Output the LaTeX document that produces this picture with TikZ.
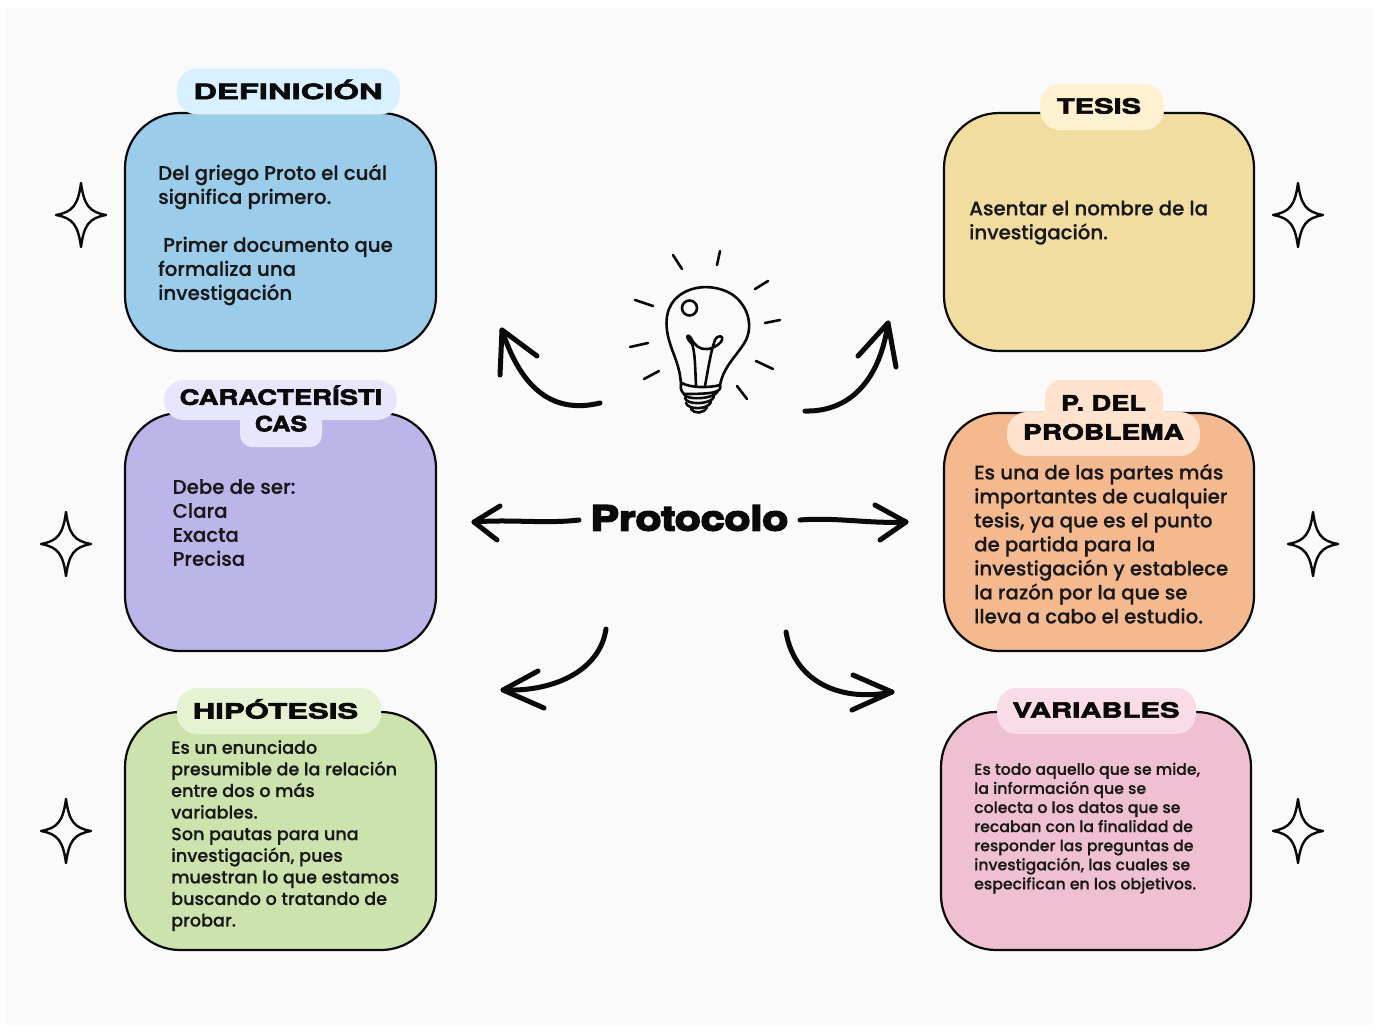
\documentclass[tikz,border=0pt]{standalone}
\usepackage{fontspec}
\setmainfont{Poppins Medium}[FakeBold=0.4]
\newfontfamily\headfont{TeX Gyre Heros}[FakeStretch=1.36,BoldFeatures={FakeBold=3}]
\newfontfamily\titlefont{TeX Gyre Heros}[FakeStretch=1.36,BoldFeatures={FakeBold=6}]
\definecolor{pagebg}{HTML}{FAFAFA}
\definecolor{inkc}{HTML}{0A0A0A}
\definecolor{cblue}{HTML}{9BCDEA}\definecolor{cblueL}{HTML}{D8F0FF}
\definecolor{cyel}{HTML}{F1DD9F}\definecolor{cyelL}{HTML}{FFF1CF}
\definecolor{cpur}{HTML}{BBB5E9}\definecolor{cpurL}{HTML}{E8E6FD}
\definecolor{cora}{HTML}{F4B98E}\definecolor{coraL}{HTML}{FFE3CF}
\definecolor{cgre}{HTML}{CDE3AE}\definecolor{cgreL}{HTML}{E5F3D3}
\definecolor{cpin}{HTML}{EFC0D2}\definecolor{cpinL}{HTML}{F9DCE7}
\newcommand{\hs}[2]{\scalebox{#1}[1]{#2}}
\tikzset{
  card/.style={draw=inkc,line width=2.2pt,rounded corners=55pt,minimum width=#1,minimum height=238pt,inner sep=0pt},
  pill/.style={rounded corners=20pt,inner sep=0pt,text=inkc},
  head/.style={font=\headfont\bfseries\fontsize{21}{27}\selectfont,text=inkc,align=center,inner sep=0pt},
  bodytxt/.style={anchor=north west,align=left,inner sep=0pt,text=black!90,font=\fontsize{19.75}{24}\selectfont},
  bodytxtS/.style={anchor=north west,align=left,inner sep=0pt,text=black!90,font=\fontsize{17.6}{21.6}\selectfont},
  bodytxtT/.style={anchor=north west,align=left,inner sep=0pt,text=black!90,font=\fontsize{15.7}{19.1}\selectfont},
  swoop/.style={draw=inkc,line width=5pt,line cap=round,line join=round},
  lamp/.style={draw=inkc,line width=2.6pt,line cap=round,line join=round},
  spark/.style={draw=inkc,line width=2.4pt,line join=round},
}
\newcommand{\sparkat}[2]{%
  \path[spark,shift={(#1,#2)}] (0,-32) .. controls (3,-10) and (8,-3) .. (25,0) .. controls (8,3) and (3,10) .. (0,32) .. controls (-3,10) and (-8,3) .. (-25,0) .. controls (-8,-3) and (-3,-10) .. (0,-32) -- cycle;}
\begin{document}
\begin{tikzpicture}[x=1pt,y=-1pt]
\useasboundingbox (0,0) rectangle (1375,1028);
\fill[white] (0,0) rectangle (1375,1028);
\fill[pagebg] (5,8) rectangle (1373,1025);
% cards
\node[card=311pt,fill=cblue] (defbox) at (280.5,232) {};
\node[card=310pt,fill=cyel] (tesbox) at (1099,232) {};
\node[card=311pt,fill=cpur] (carbox) at (280.5,532) {};
\node[card=310pt,fill=cora] (probox) at (1099,532) {};
\node[card=311pt,fill=cgre] (hipbox) at (280.5,831) {};
\node[card=310pt,fill=cpin] (varbox) at (1096,831) {};
% title pills
\node[pill,fill=cblueL,minimum width=223pt,minimum height=46pt] (defpill) at (288.5,91.5) {};
\node[head] (deflab) at (288,89.5) {\hs{1.147}{DEFINICIÓN}};
\node[pill,fill=cyelL,minimum width=124pt,minimum height=46pt] (tespill) at (1102,107) {};
\node[head] (teslab) at (1099,106) {\hs{1.02}{TESIS}};
\node[pill,fill=cpurL,minimum width=233pt,minimum height=40pt] (carpillA) at (280.5,400) {};
\node[pill,rounded corners=12pt,fill=cpurL,minimum width=82pt,minimum height=60pt] (carpillB) at (281,417) {};
\node[head] (carlab) at (281,408.5) {\hs{0.963}{CARACTERÍSTI}\\[-0.5pt]\hs{0.88}{CAS}};
\node[pill,rounded corners=16pt,fill=coraL,minimum width=118pt,minimum height=56pt] (propillA) at (1104,408) {};
\node[pill,fill=coraL,minimum width=193pt,minimum height=44pt] (propillB) at (1103.5,434) {};
\node[head] (prolab) at (1103.5,417.5) {\hs{0.95}{P. DEL}\\[2pt]\hs{0.985}{PROBLEMA}};
\node[pill,fill=cgreL,minimum width=204pt,minimum height=46pt] (hippill) at (279,711) {};
\node[head] (hiplab) at (275.5,709) {\hs{1.09}{HIPÓTESIS}};
\node[pill,fill=cpinL,minimum width=199pt,minimum height=46pt] (varpill) at (1096.5,711) {};
\node[head] (varlab) at (1096,710) {\hs{1.025}{VARIABLES}};
% body texts
\node[bodytxt] (deftxt) at (158,164) {Del griego Proto el cuál\\significa primero.\\[24pt]\hspace*{5pt}Primer documento que\\formaliza una\\investigación};
\node[bodytxt] (testxt) at (969,200.5) {Asentar el nombre de la\\investigación.};
\node[bodytxt] (cartxt) at (172.5,479) {Debe de ser:\\Clara\\Exacta\\Precisa};
\node[bodytxt] (protxt) at (974,463.5) {Es una de las partes más\\importantes de cualquier\\tesis, ya que es el punto\\de partida para la\\investigación y establece\\la razón por la que se\\lleva a cabo el estudio.};
\node[bodytxtS] (hiptxt) at (171,740) {Es un enunciado\\presumible de la relación\\entre dos o más\\variables.\\Son pautas para una\\investigación, pues\\muestran lo que estamos\\buscando o tratando de\\probar.};
\node[bodytxtT] (vartxt) at (974,762.5) {Es todo aquello que se mide,\\la información que se\\colecta o los datos que se\\recaban con la finalidad de\\responder las preguntas de\\investigación, las cuales se\\especifican en los objetivos.};
% centre
\node[font=\titlefont\bfseries\fontsize{34}{40}\selectfont,text=inkc,inner sep=0pt] (protocolo) at (689.5,518) {\hs{0.92}{Protocolo}};
% arrows
\coordinate (a1s) at (600,403); \coordinate (a1e) at (502,330);
\coordinate (a2s) at (805,411); \coordinate (a2e) at (888,323);
\coordinate (a3s) at (579,520); \coordinate (a3e) at (474,522);
\coordinate (a4s) at (800,520); \coordinate (a4e) at (906,522);
\coordinate (a5s) at (606,629); \coordinate (a5e) at (503,690);
\coordinate (a6s) at (786,632); \coordinate (a6e) at (892,692);
\draw[swoop] (a1s) .. controls (550,415) and (520,385) .. (a1e);
\draw[swoop] (500,375) -- (a1e) -- (537,356);
\draw[swoop] (a2s) .. controls (850,412) and (880,380) .. (a2e);
\draw[swoop] (858,356) -- (a2e) -- (896,367);
\draw[swoop] (a3s) .. controls (545,524) and (510,519) .. (a3e);
\draw[swoop] (500,506) -- (a3e) -- (497,540);
\draw[swoop] (a4s) .. controls (835,517) and (870,524) .. (a4e);
\draw[swoop] (875,505) -- (a4e) -- (880,540);
\draw[swoop] (a5s) .. controls (600,670) and (555,692) .. (a5e);
\draw[swoop] (538,671) -- (a5e) -- (544,708);
\draw[swoop] (a6s) .. controls (795,685) and (845,702) .. (a6e);
\draw[swoop] (853,675) -- (a6e) -- (852,710);
% sparkles
\sparkat{81}{215}\sparkat{1298}{215}\sparkat{66}{544}\sparkat{1313}{544}\sparkat{66}{831}\sparkat{1298}{831}
% bulb
\draw[lamp] (681,385) .. controls (680,365) and (673,355) .. (669,340)
  .. controls (664,322) and (666,305) .. (680,295)
  .. controls (695,284) and (718,285) .. (733,295)
  .. controls (748,306) and (753,325) .. (746,340)
  .. controls (738,355) and (724,365) .. (720,385);
\draw[lamp] (689.5,308) circle (7.5pt);
\draw[lamp] (696,385) .. controls (695,365) and (695,352) .. (692,344) .. controls (684,336) and (688,333) .. (691,338)
  .. controls (694,345) and (700,350) .. (707,349) .. controls (714,349) and (722,342) .. (722,340)
  .. controls (724,336) and (718,334) .. (715,340) .. controls (711,350) and (708,370) .. (705,386);
\draw[lamp] (682,383) .. controls (690,388) and (710,388) .. (720,385) .. controls (722,392) and (715,394) .. (684,394)
 .. controls (680,390) and (680,386) .. (682,383);
\draw[lamp] (684,394) .. controls (684,400) and (714,400) .. (718,391);
\draw[lamp] (685,398) .. controls (686,405) and (710,405) .. (714,397);
\draw[lamp] (686,403) .. controls (688,410) and (708,410) .. (711,402);
\draw[lamp] (691,409) .. controls (694,414) and (704,414) .. (707,407);
\draw[lamp] (673,255) -- (682,269);
\draw[lamp] (720,251) -- (717,265);
\draw[lamp] (768,281) -- (755,289);
\draw[lamp] (635,300) -- (653,306);
\draw[lamp] (780,320) -- (765,323);
\draw[lamp] (630,347) -- (648,343);
\draw[lamp] (756,361) -- (773,369);
\draw[lamp] (644,379) -- (659,371);
\draw[lamp] (737,386) -- (747,399);
\end{tikzpicture}
\end{document}
